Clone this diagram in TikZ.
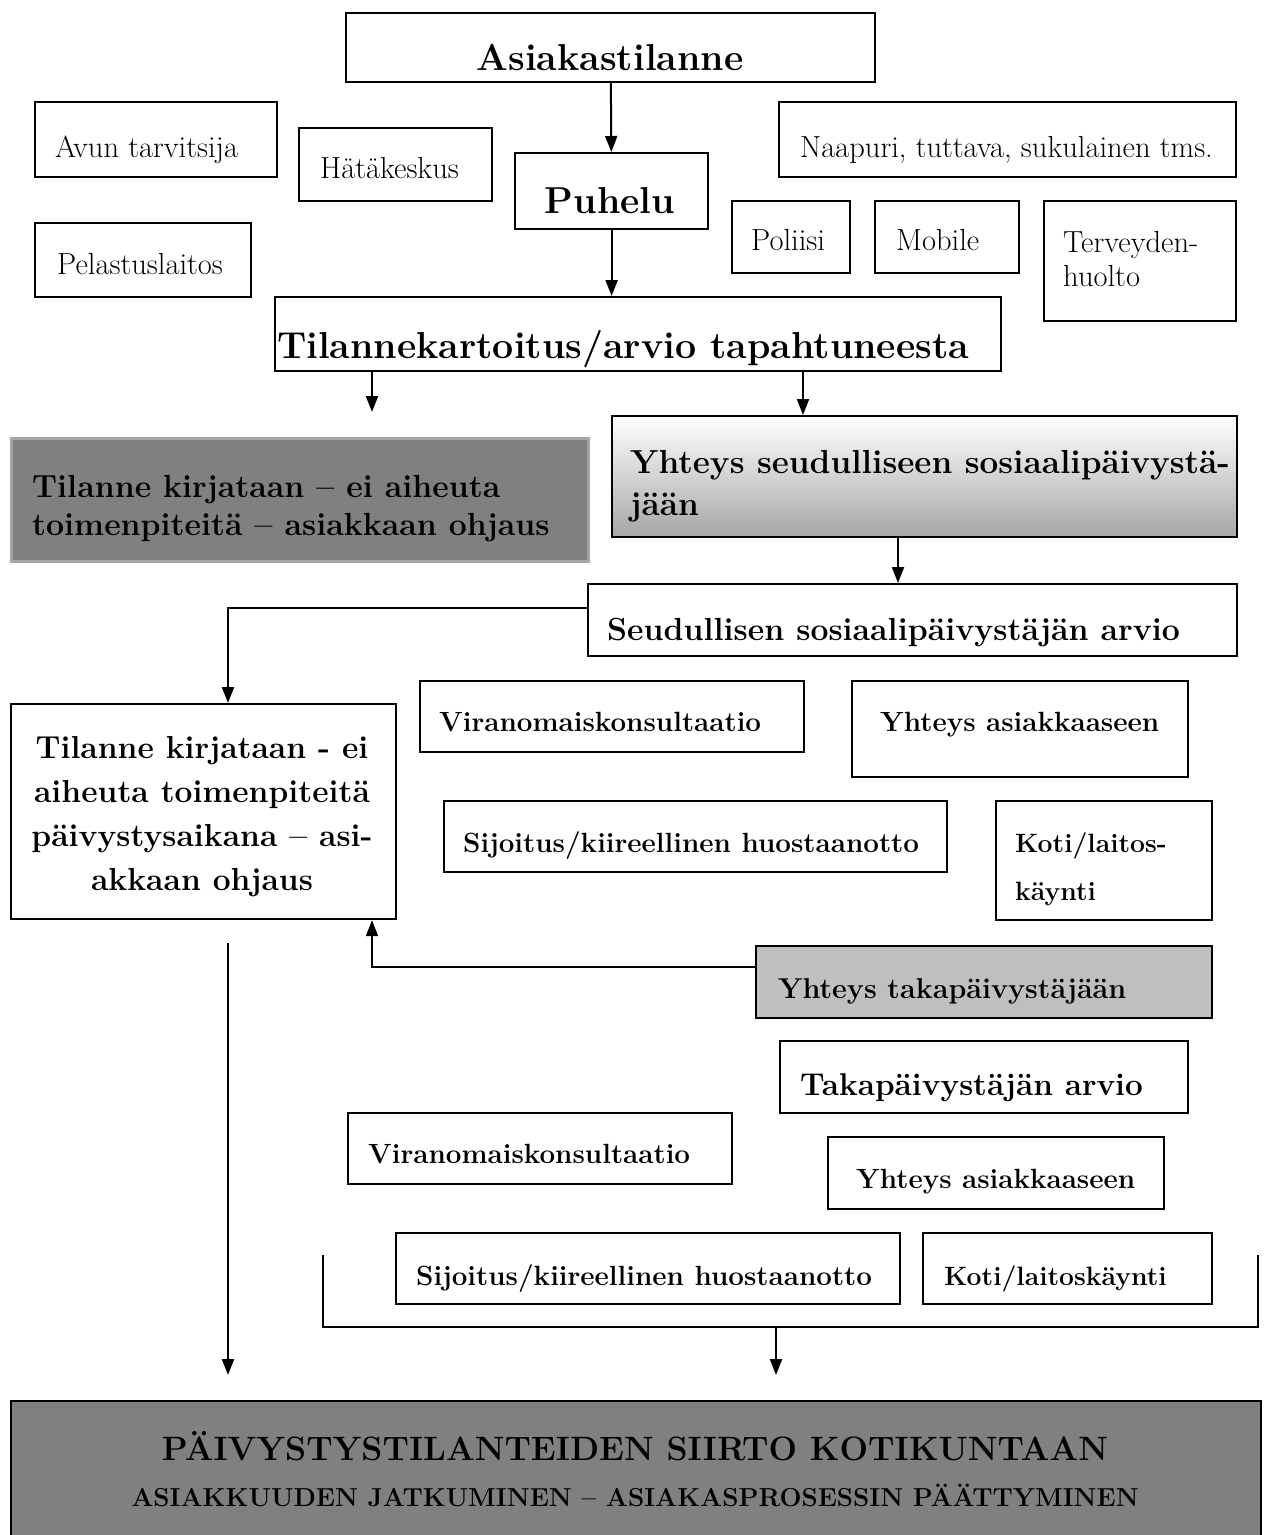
\documentclass[tikz,border=0pt]{standalone}
\usepackage{fontspec}
\usetikzlibrary{arrows.meta,positioning,calc}

\tikzset{
    plainbox/.style 2 args={draw, line width=2.2pt, anchor=north west, inner sep=0pt,
        minimum width=#1pt, minimum height=#2pt},
    % harmaat laatikot
    darkbox/.style={fill=black!50, draw=black!35, line width=3pt},
    endbox/.style={fill=black!50},
    lightbox/.style={fill=black!25},
    fadebox/.style={top color=white, bottom color=black!35},
    blackarrow/.style={line width=2pt, -{Triangle[length=16pt, width=12pt]}},
    blackline/.style={line width=2pt},
    plaintext/.style={inner sep=0pt, anchor=base west, font=\fontsize{30.5}{34}\selectfont},
    bigtext/.style={inner sep=0pt, anchor=base, font=\bfseries\fontsize{37.5}{42}\selectfont},
    midtext/.style={inner sep=0pt, anchor=base west, font=\bfseries\fontsize{32}{38}\selectfont},
    smalltext/.style={inner sep=0pt, anchor=base west, font=\bfseries\fontsize{27.8}{32}\selectfont}
}

\begin{document}
\begin{tikzpicture}[x=1pt, y=-1pt]
    \useasboundingbox (0,0) rectangle (1267,1535);

    \node[plainbox={529}{69}] (asiakas) at (345,12) {};
    \node[plainbox={242}{75}] (avun) at (34,101) {};
    \node[plainbox={193}{73}] (hata) at (298,127) {};
    \node[plainbox={193}{76}] (puhelu) at (514,152) {};
    \node[plainbox={457}{75}] (naapuri) at (778,101) {};
    \node[plainbox={216}{74}] (pelastus) at (34,222) {};
    \node[plainbox={118}{72}] (poliisi) at (731,200) {};
    \node[plainbox={144}{72}] (mobile) at (874,200) {};
    \node[plainbox={192}{120}] (terveys) at (1043,200) {};
    \node[plainbox={726}{74}] (kartoitus) at (274,296) {};
    \node[plainbox={577}{123}, darkbox] (harmaa) at (10,437) {};
    \node[plainbox={625}{121}, fadebox] (seutu) at (611,415) {};
    \node[plainbox={649}{72}] (arvio) at (587,583) {};
    \node[plainbox={385}{215}] (kirjataan) at (10,703) {};
    \node[plainbox={384}{71}] (viran1) at (419,680) {};
    \node[plainbox={336}{96}] (yhteys1) at (851,680) {};
    \node[plainbox={503}{71}] (sijoitus1) at (443,800) {};
    \node[plainbox={216}{119}] (koti1) at (995,800) {};
    \node[plainbox={456}{72}, lightbox] (taka) at (755,945) {};
    \node[plainbox={408}{72}] (takaarvio) at (779,1040) {};
    \node[plainbox={384}{71}] (viran2) at (347,1112) {};
    \node[plainbox={336}{72}] (yhteys2) at (827,1136) {};
    \node[plainbox={504}{71}] (sijoitus2) at (395,1232) {};
    \node[plainbox={289}{71}] (koti2) at (922,1232) {};
    \node[plainbox={1250}{145}, endbox] (siirto) at (10,1400) {};

    \node[bigtext] (t-asiakas) at (610,70) {Asiakastilanne};
    \node[plaintext] (t-avun) at (55,157) {Avun tarvitsija};
    \node[plaintext] (t-hata) at (320,178) {Hätäkeskus};
    \node[bigtext] (t-puhelu) at (610,213) {Puhelu};
    \node[plaintext] (t-naapuri) at (800,157) {Naapuri, tuttava, sukulainen tms.};
    \node[plaintext] (t-pelastus) at (57,274) {Pelastuslaitos};
    \node[plaintext] (t-poliisi) at (751,250) {Poliisi};
    \node[plaintext] (t-mobile) at (896,250) {Mobile};
    \node[plaintext, align=left] (t-terveys) at (1063,286) {Terveyden-\\huolto};
    \node[bigtext] (t-kartoitus) at (623,358) {Tilannekartoitus/arvio tapahtuneesta};
    \node[midtext, align=left] (t-harmaa) at (32,535)
        {Tilanne kirjataan – ei aiheuta\\toimenpiteitä – asiakkaan ohjaus};
    \node[midtext, align=left, font=\bfseries\fontsize{33.3}{42}\selectfont] (t-seutu) at (630,515)
        {Yhteys seudulliseen sosiaalipäivystä-\\jään};
    \node[midtext] (t-arvio) at (607,640) {Seudullisen sosiaalipäivystäjän arvio};
    \node[midtext, anchor=base, align=center, font=\bfseries\fontsize{31.8}{44}\selectfont]
        (t-kirjataan) at (202,890)
        {Tilanne kirjataan - ei\\aiheuta toimenpiteitä\\päivystysaikana – asi-\\akkaan ohjaus};
    \node[smalltext] (t-viran1) at (439,731) {Viranomaiskonsultaatio};
    \node[smalltext] (t-yhteys1) at (880,731) {Yhteys asiakkaaseen};
    \node[smalltext] (t-sijoitus1) at (463,852) {Sijoitus/kiireellinen huostaanotto};
    \node[smalltext, align=left, font=\bfseries\fontsize{26.5}{48}\selectfont] (t-koti1) at (1015,900)
        {Koti/laitos-\\käynti};
    \node[smalltext, font=\bfseries\fontsize{28.7}{32}\selectfont] (t-taka) at (778,998)
        {Yhteys takapäivystäjään};
    \node[smalltext, font=\bfseries\fontsize{31.5}{34}\selectfont] (t-takaarvio) at (800,1095)
        {Takapäivystäjän arvio};
    \node[smalltext] (t-viran2) at (368,1163) {Viranomaiskonsultaatio};
    \node[smalltext] (t-yhteys2) at (856,1188) {Yhteys asiakkaaseen};
    \node[smalltext] (t-sijoitus2) at (416,1285) {Sijoitus/kiireellinen huostaanotto};
    \node[smalltext, font=\bfseries\fontsize{26.5}{30}\selectfont] (t-koti2) at (944,1285)
        {Koti/laitoskäynti};
    \node[bigtext, font=\bfseries\fontsize{33.8}{36}\selectfont] (t-siirto) at (635,1460)
        {PÄIVYSTYSTILANTEIDEN SIIRTO KOTIKUNTAAN};
    \node[bigtext, font=\bfseries\fontsize{26}{30}\selectfont] (t-jatko) at (635,1506)
        {ASIAKKUUDEN JATKUMINEN – ASIAKASPROSESSIN PÄÄTTYMINEN};

    \coordinate (k-vasen) at (372,412);
    \coordinate (k-oikea) at (803,0);
    \coordinate (k-seutu) at (898,0);
    \coordinate (k-alas) at (228,0);
    \coordinate (v-alku) at (228,943);
    \coordinate (v-loppu) at (228,1375);
    \coordinate (h-vasen) at (323,1255);
    \coordinate (h-oikea) at (1258,1255);
    \coordinate (h-keski) at (776,1327);
    \coordinate (h-loppu) at (776,1375);

    \draw[blackarrow] (asiakas) -- (puhelu);
    \draw[blackarrow] (puhelu.south) -- (puhelu.south |- kartoitus.north);
    \draw[blackarrow] (kartoitus.south -| k-vasen) -- (k-vasen);
    \draw[blackarrow] (kartoitus.south -| k-oikea) -- (seutu.north -| k-oikea);
    \draw[blackarrow] (seutu.south -| k-seutu) -- (arvio.north -| k-seutu);
    \draw[blackarrow] ([yshift=-25pt]arvio.north west) -| (kirjataan.north -| k-alas);
    \draw[blackarrow] ([yshift=-22pt]taka.north west) -| (kirjataan.south -| k-vasen);
    \draw[blackarrow] (v-alku) -- (v-loppu);
    \draw[blackline] (h-vasen) |- (h-keski) -| (h-oikea);
    \draw[blackarrow] (h-keski) -- (h-loppu);
\end{tikzpicture}
\end{document}
